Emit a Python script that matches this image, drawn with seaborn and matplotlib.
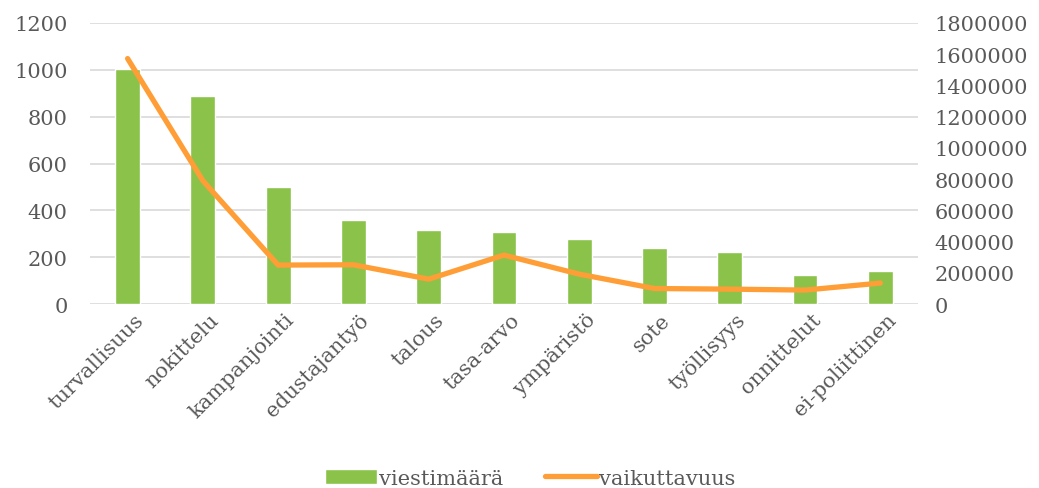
import matplotlib.pyplot as plt
import matplotlib.transforms as mtransforms
import pandas as pd
import seaborn as sns
import numpy as np

# Data
categories = ["turvallisuus", "nokittelu", "kampanjointi", "edustajantyö", "talous",
              "tasa-arvo", "ympäristö", "sote", "työllisyys", "onnittelut", "ei-poliittinen"]
viestimaara = [1002, 890, 498, 358, 317, 306, 278, 238, 223, 125, 140]
vaikuttavuus = [1572000, 790000, 250000, 252000, 160000, 314000, 192000, 100000, 96000, 90000, 135000]

df = pd.DataFrame({"kategoria": categories,
                   "viestimäärä": viestimaara,
                   "vaikuttavuus": vaikuttavuus})
df["pos"] = np.arange(len(df))

sns.set_theme(style="white")
plt.rcParams["font.family"] = ["DejaVu Serif"]
text_color = "#595959"
green = "#8BC34A"
orange = "#FF9E36"
fs = 15

fig = plt.figure(figsize=(10.39, 4.89), dpi=100)
ax = fig.add_axes([0.0866, 0.376, 0.7969, 0.575])

sns.barplot(data=df, x="kategoria", y="viestimäärä", color=green, width=0.33,
            saturation=1, ax=ax, label="viestimäärä", legend=False)
if ax.get_legend() is not None:
    ax.get_legend().remove()
ax.set_ylim(0, 1200)
ax.set_yticks(range(0, 1201, 200))
ax.set_xlim(-0.5, len(df) - 0.5)
ax.grid(axis="y", color="#d9d9d9", linewidth=1.2)
ax.set_axisbelow(True)
ax.set_xlabel("")
ax.set_ylabel("")
for s in ax.spines.values():
    s.set_visible(False)
ax.tick_params(axis="y", length=0, pad=16, labelsize=fs, labelcolor=text_color)
ax.tick_params(axis="x", length=0, pad=4, labelsize=fs, labelcolor=text_color)

# shift rotated labels slightly right, like the original
shift = mtransforms.ScaledTranslation(6 / 100, 0, fig.dpi_scale_trans)
for lbl in ax.get_xticklabels():
    lbl.set_rotation(45)
    lbl.set_ha("right")
    lbl.set_va("top")
    lbl.set_rotation_mode("anchor")
    lbl.set_transform(lbl.get_transform() + shift)

ax2 = ax.twinx()
sns.lineplot(data=df, x="pos", y="vaikuttavuus", color=orange, linewidth=3.8,
             ax=ax2, label="vaikuttavuus", legend=False)
ax2.set_ylim(0, 1800000)
ax2.set_yticks(range(0, 1800001, 200000))
ax2.set_yticklabels([str(v) for v in range(0, 1800001, 200000)])
ax2.set_ylabel("")
ax2.set_xlim(-0.5, len(df) - 0.5)
ax2.grid(False)
for s in ax2.spines.values():
    s.set_visible(False)
ax2.tick_params(axis="y", length=0, pad=12, labelsize=fs, labelcolor=text_color)

h1, l1 = ax.get_legend_handles_labels()
h2, l2 = ax2.get_legend_handles_labels()
fig.legend(h1 + h2, l1 + l2, loc="center", bbox_to_anchor=(0.51, 0.02), ncol=2,
           frameon=False, fontsize=fs, labelcolor=text_color, handlelength=2.5,
           handletextpad=0.1, columnspacing=2.0)

fig.savefig("out.png", dpi=100)
